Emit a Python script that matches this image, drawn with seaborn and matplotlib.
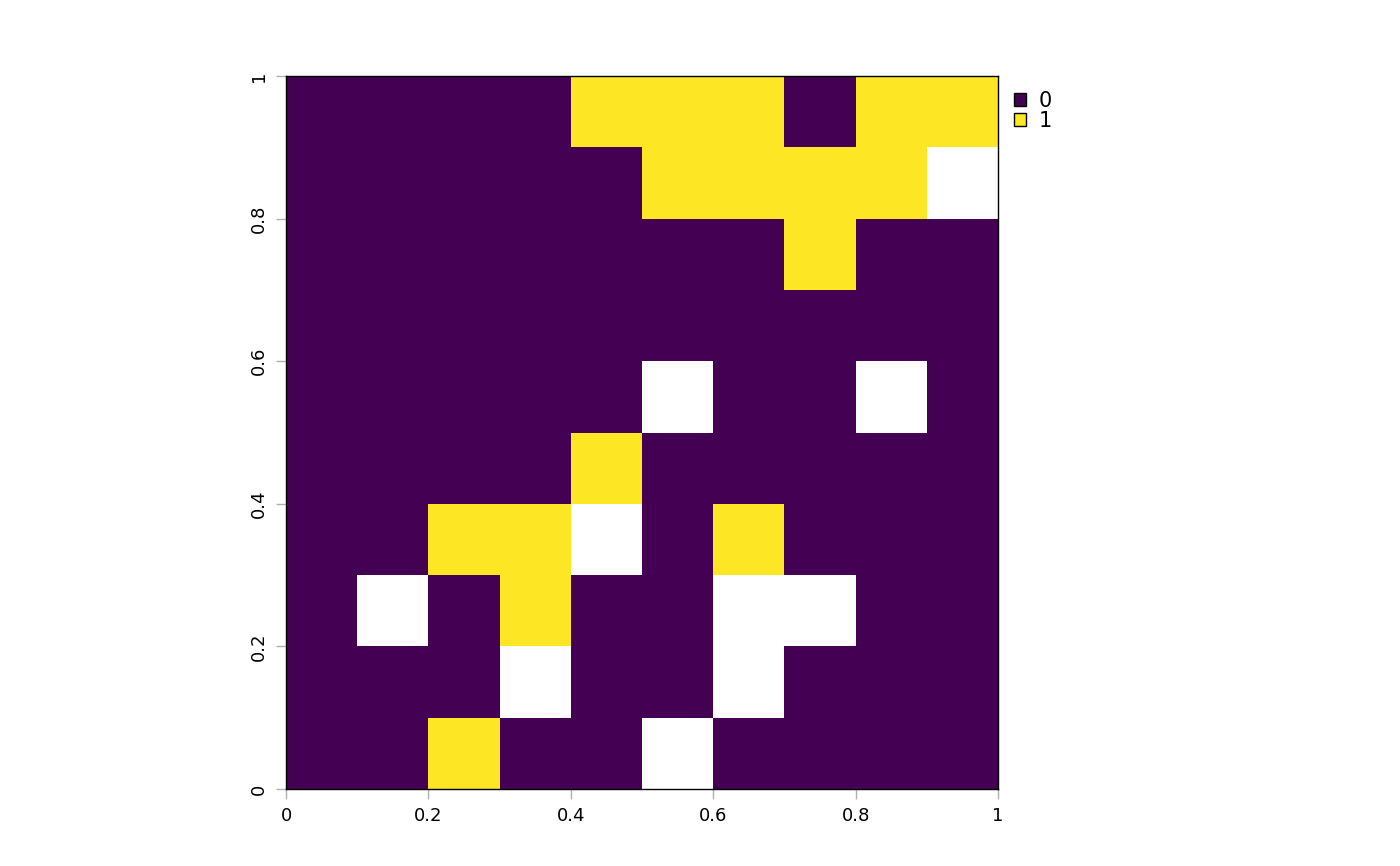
import numpy as np
import matplotlib
matplotlib.use("Agg")
import matplotlib.pyplot as plt
from matplotlib.colors import ListedColormap
from matplotlib.patches import Patch
import seaborn as sns

# raster values, top row first (nan = no data)
n = np.nan
grid = [
    [0, 0, 0, 0, 1, 1, 1, 0, 1, 1],
    [0, 0, 0, 0, 0, 1, 1, 1, 1, n],
    [0, 0, 0, 0, 0, 0, 0, 1, 0, 0],
    [0, 0, 0, 0, 0, 0, 0, 0, 0, 0],
    [0, 0, 0, 0, 0, n, 0, 0, n, 0],
    [0, 0, 0, 0, 1, 0, 0, 0, 0, 0],
    [0, 0, 1, 1, n, 0, 1, 0, 0, 0],
    [0, n, 0, 1, 0, 0, n, n, 0, 0],
    [0, 0, 0, n, 0, 0, n, 0, 0, 0],
    [0, 0, 1, 0, 0, n, 0, 0, 0, 0],
]
classes = ["0", "1"]
class_colors = ["#440154", "#FDE725"]
tick_vals = [0, 0.2, 0.4, 0.6, 0.8, 1]
tick_labels = ["0", "0.2", "0.4", "0.6", "0.8", "1"]

sns.set_style("white")
fig = plt.figure(figsize=(14, 8.66), dpi=100)
ax = fig.add_axes([0.2043, 0.0889, 0.5086, 0.8233])

data = np.array(grid, dtype=float)
sns.heatmap(data, cmap=ListedColormap(class_colors), vmin=0, vmax=1,
            cbar=False, ax=ax, square=False)

ncol = data.shape[1]
ax.set_xticks([v * ncol for v in tick_vals])
ax.set_xticklabels(tick_labels, rotation=0, fontsize=13)
ax.set_yticks([(1 - v) * ncol for v in tick_vals])
ax.set_yticklabels(tick_labels, rotation=90, fontsize=13, va="center")
ax.tick_params(axis="both", bottom=True, left=True, length=7, width=1,
               color="#b0b0b0", labelcolor="black", pad=6)
ax.set_xlabel("")
ax.set_ylabel("")

for s in ax.spines.values():
    s.set_visible(True)
    s.set_color("black")
    s.set_linewidth(1)

handles = [Patch(facecolor=c, edgecolor="black", label=l)
           for c, l in zip(class_colors, classes)]
leg = fig.legend(handles=handles, loc="upper left", bbox_to_anchor=(0.718, 0.905),
                 frameon=False, fontsize=15, handlelength=0.6, handleheight=0.6,
                 handletextpad=0.6, labelspacing=0.0, borderaxespad=0)
for t in leg.get_texts():
    t.set_color("black")

fig.savefig("out.png", dpi=100)
